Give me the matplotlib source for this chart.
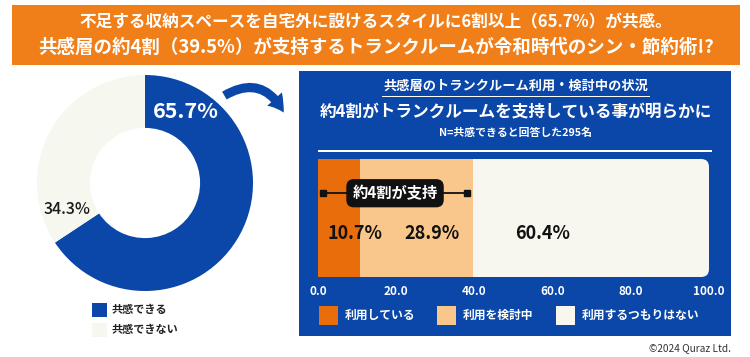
import matplotlib
matplotlib.use('Agg')
import matplotlib.pyplot as plt
from matplotlib.patches import Rectangle, FancyBboxPatch, FancyArrowPatch

plt.rcParams['font.family'] = ['Noto Sans CJK JP', 'DejaVu Sans']

# データ
donut_labels = ['共感できる', '共感できない']
donut_values = [65.7, 34.3]
bar_labels = ['利用している', '利用を検討中', '利用するつもりはない']
bar_values = [10.7, 28.9, 60.4]
tick_values = [0, 20, 40, 60, 80, 100]

BLUE = '#0a47a8'
OFFWHITE = '#f6f7ef'
ORANGE = '#f07f1a'
bar_colors = ['#ea6d0b', '#f9c68b', '#f7f7f0']

W, H = 750, 357
fig = plt.figure(figsize=(W / 100, H / 100), dpi=100)


def fx(x):
    return x / W


def fy(y):
    return 1 - y / H


def rect(x0, y0, x1, y1, color, z=0.5):
    fig.patches.append(Rectangle((fx(x0), fy(y1)), fx(x1 - x0), (y1 - y0) / H,
                                 transform=fig.transFigure, facecolor=color,
                                 edgecolor='none', zorder=z))


# 見出し
rect(12, 5, 740, 65, ORANGE)
fig.text(fx(376), fy(22), '不足する収納スペースを自宅外に設けるスタイルに6割以上（65.7%）が共感。',
         color='white', fontsize=12, fontweight='bold', ha='center', va='center')
fig.text(fx(376), fy(47), '共感層の約4割（39.5%）が支持するトランクルームが令和時代のシン・節約術!?',
         color='white', fontsize=13.3, fontweight='bold', ha='center', va='center')

# ドーナツ
ax1 = fig.add_axes([fx(37), fy(291), fx(216), 216 / H])
ax1.set_zorder(2)
ax1.pie(donut_values, colors=[BLUE, OFFWHITE], startangle=90, counterclock=False,
        radius=1, wedgeprops=dict(width=0.49, edgecolor='none'))
ax1.set_xlim(-1, 1)
ax1.set_ylim(-1, 1)
ax1.set_aspect('equal')
ax1.axis('off')
ax1.text(0.38, 0.66, f'{donut_values[0]}%', color='white', fontsize=15.5,
         fontweight='bold', ha='center', va='center')
ax1.text(-0.72, -0.25, f'{donut_values[1]}%', color='#1a1a1a', fontsize=11.5,
         fontweight='medium', ha='center', va='center')

# 凡例 (左)
for i, (lab, c) in enumerate(zip(donut_labels, [BLUE, OFFWHITE])):
    y = 303 + i * 20
    rect(92, y, 107, y + 14, c)
    fig.text(fx(112), fy(y + 7), lab, color='#222222', fontsize=8,
             fontweight='bold', ha='left', va='center')

# 矢印
fig.patches.append(FancyArrowPatch((fx(222), fy(97)), (fx(285), fy(115)),
                                   transform=fig.transFigure,
                                   connectionstyle='arc3,rad=-0.55',
                                   arrowstyle='simple,head_width=1.1,head_length=0.9,tail_width=0.5',
                                   mutation_scale=13, color=BLUE, lw=0, zorder=3))

# 右パネル
rect(299, 71, 731, 336, BLUE, z=0.2)
fig.text(fx(516), fy(86), '共感層のトランクルーム利用・検討中の状況', color='white',
         fontsize=9.5, fontweight='bold', ha='center', va='center')
rect(382, 95.5, 650, 96.7, 'white')
fig.text(fx(516), fy(112), '約4割がトランクルームを支持している事が明らかに', color='white',
         fontsize=12, fontweight='bold', ha='center', va='center')
fig.text(fx(516), fy(133), 'N=共感できると回答した295名', color='white',
         fontsize=7.8, fontweight='bold', ha='center', va='center')
rect(318, 150, 712, 152, 'white')

# 帯グラフ
ax2 = fig.add_axes([fx(318), fy(277), fx(391), 118 / H])
ax2.set_zorder(2)
ax2.patch.set_alpha(0)
left = 0
bars = []
for v, c in zip(bar_values, bar_colors):
    b = ax2.barh(0, v, left=left, height=1, color=c, edgecolor='none')
    bars.append(b[0])
    left += v
ax2.set_xlim(0, 100)
ax2.set_ylim(-0.5, 0.5)
for s in ax2.spines.values():
    s.set_visible(False)
ax2.set_yticks([])
ax2.set_xticks(tick_values)
ax2.set_xticklabels([f'{v:.1f}' for v in tick_values], color='white',
                    fontsize=8.5, fontweight='bold')
ax2.tick_params(axis='x', length=0, pad=6)

# 右側の角を丸める
clip = FancyBboxPatch((-0.1, 0.0), 1.1, 1.0, boxstyle='round,pad=0,rounding_size=0.02',
                      mutation_aspect=391 / 118,
                      transform=ax2.transAxes, facecolor='none', edgecolor='none')
ax2.add_patch(clip)
bars[-1].set_clip_path(clip)

label_pos = [9.5, 29.2, 57.5]
for v, p in zip(bar_values, label_pos):
    ax2.text(p, -0.13, f'{v}%', color='#111111', fontsize=13,
             fontweight='bold', ha='center', va='center')

# 約4割が支持
support = bar_values[0] + bar_values[1]
ax2.plot([1.4, support - 1.6], [0.21, 0.21], color='#111111', lw=1.3)
ax2.plot([1.4, support - 1.6], [0.21, 0.21], ls='none', marker='s', ms=4, color='#111111')
ax2.text(19.7, 0.21, '約4割が支持', color='white', fontsize=11, fontweight='bold',
         ha='center', va='center',
         bbox=dict(boxstyle='round,pad=0.4,rounding_size=0.5', fc='#111111', ec='none'))

# 凡例 (右)
leg_x = [319, 437, 556]
for lab, c, x in zip(bar_labels, bar_colors, leg_x):
    rect(x, 306, x + 19, 325, c)
    fig.text(fx(x + 26), fy(315.5), lab, color='white', fontsize=8.5,
             fontweight='bold', ha='left', va='center')

fig.text(fx(731), fy(348), '©2024 Quraz Ltd.', color='#333333', fontsize=7.3,
         ha='right', va='center')

fig.savefig('out.png', dpi=100, facecolor='white')
